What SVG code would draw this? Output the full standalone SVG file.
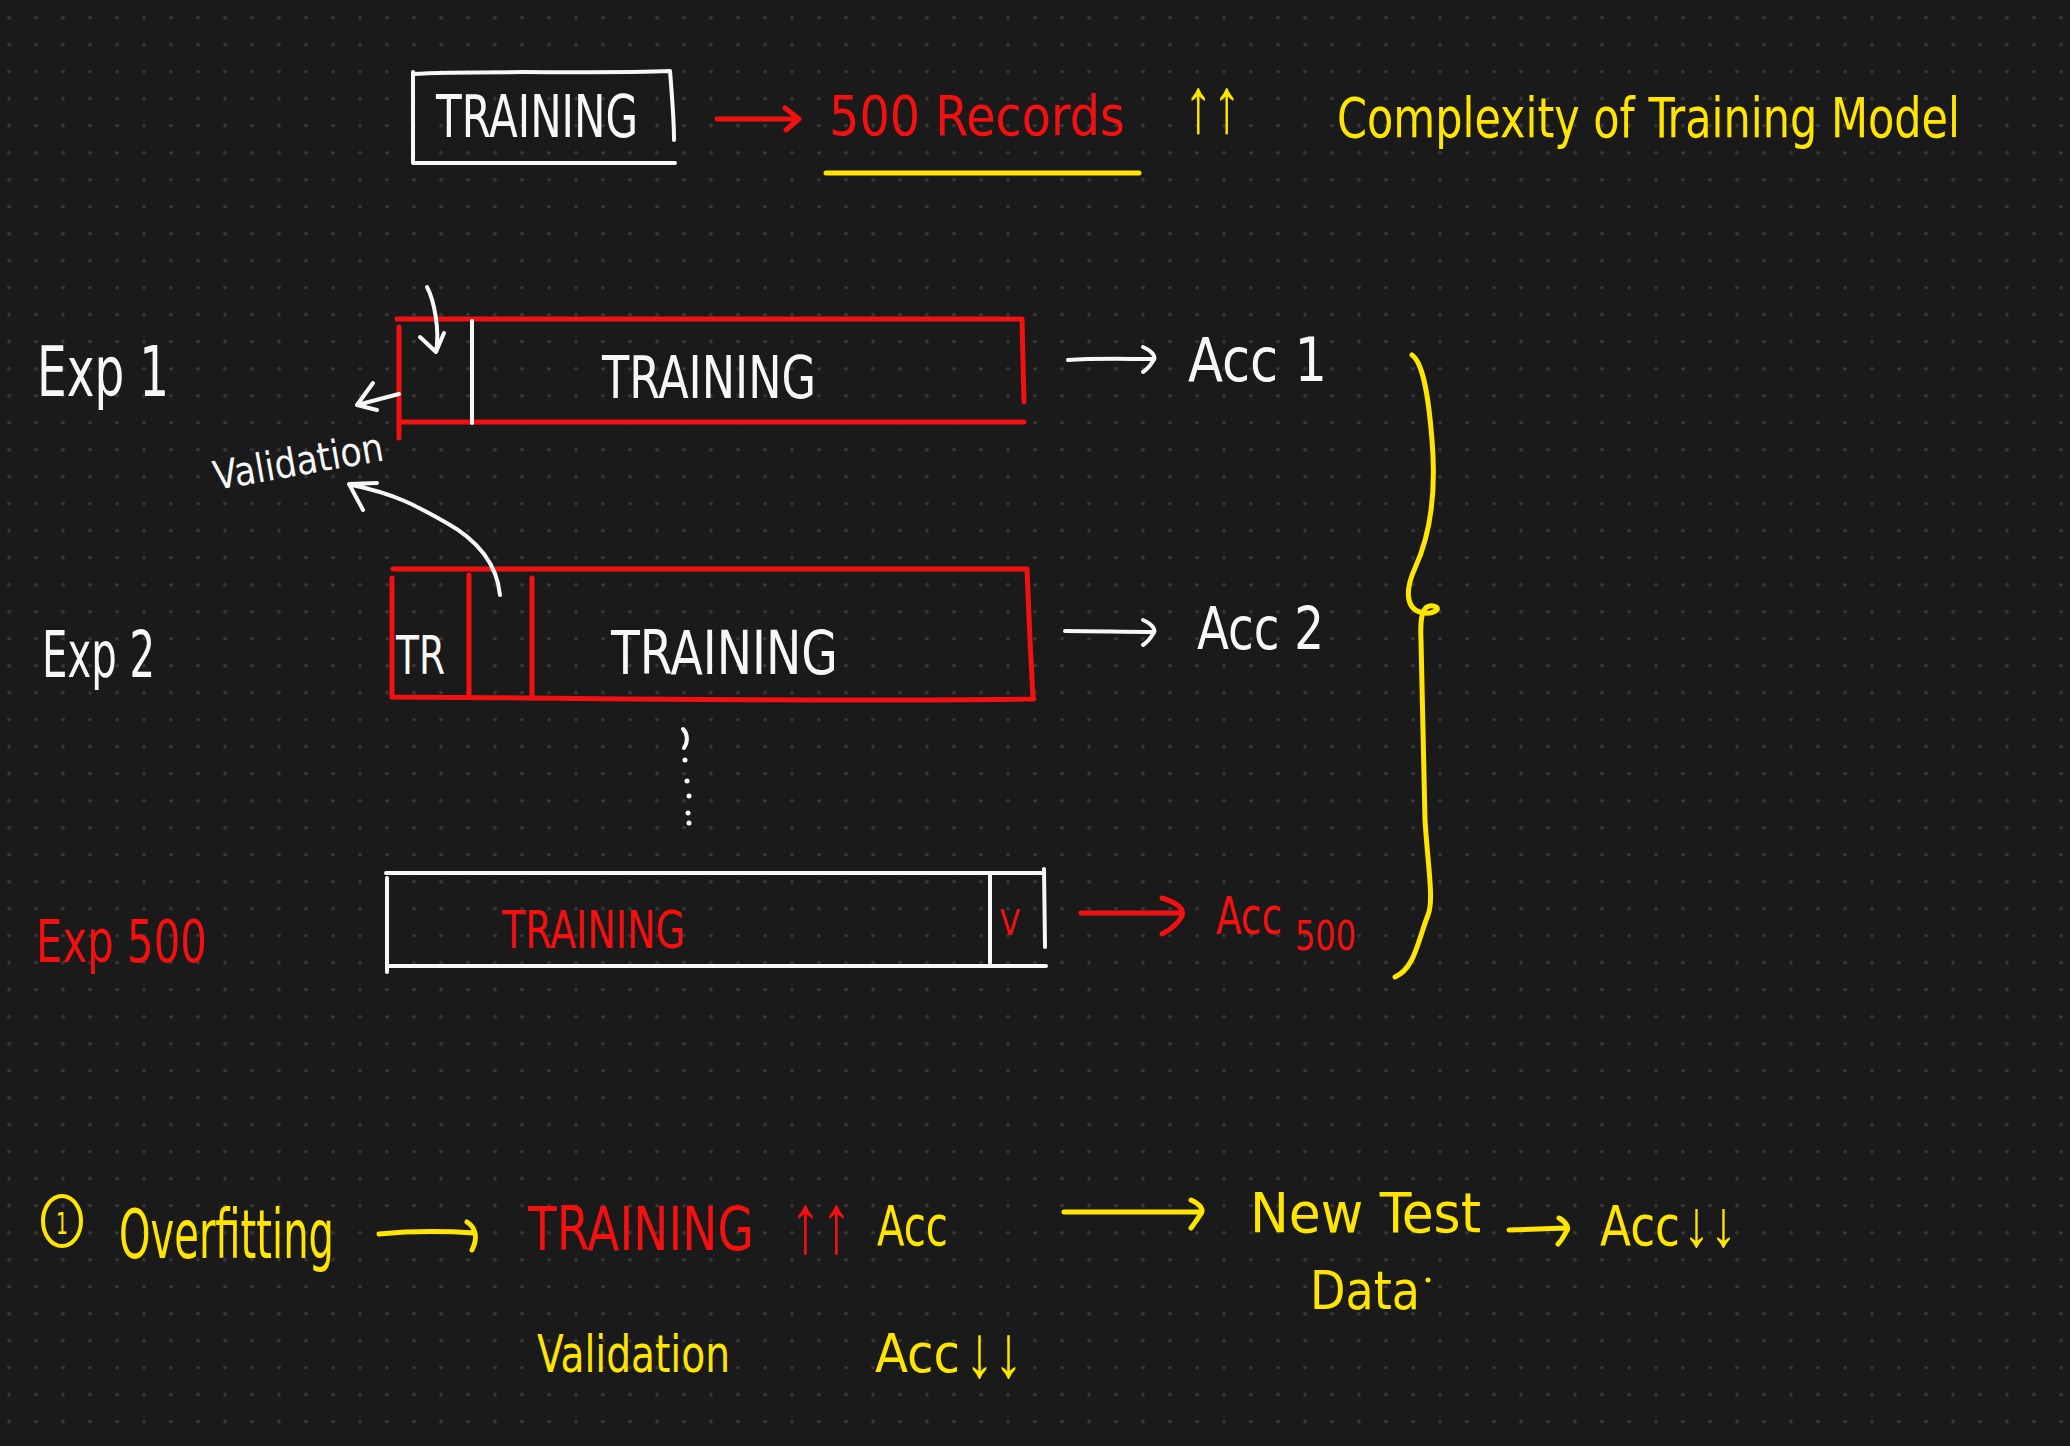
<svg xmlns="http://www.w3.org/2000/svg" width="2070" height="1446" viewBox="0 0 2070 1446">
<defs>
<pattern id="dots" patternUnits="userSpaceOnUse" x="-4.5" y="4.2" width="27" height="27">
<circle cx="13.5" cy="13.5" r="1.8" fill="#3a3a3a"/>
</pattern>
<style>
text{font-family:"Liberation Sans Narrow","DejaVu Sans Condensed","Liberation Sans",sans-serif;font-stretch:condensed;}
.sym{font-family:"Liberation Sans","DejaVu Sans",sans-serif;font-stretch:normal;}
.w{fill:#f7f7f7;}
.r{fill:#f21010;}
.y{fill:#ffe500;}
.sw{fill:none;stroke:#f7f7f7;stroke-width:4;stroke-linecap:round;stroke-linejoin:round;}
.sr{fill:none;stroke:#f21010;stroke-width:5;stroke-linecap:round;stroke-linejoin:round;}
.sy{fill:none;stroke:#ffe500;stroke-width:5;stroke-linecap:round;stroke-linejoin:round;}
</style>
</defs>
<rect width="2070" height="1446" fill="#1a1a1a"/>
<rect width="2070" height="1446" fill="url(#dots)"/>

<!-- Top row -->
<g id="top-training">
<path class="sw" d="M413,72 L413,163 M413,74 C470,70 600,74 670,71 C672,95 674,130 674,140 M413,163 L675,163"/>
<text class="w" x="436" y="137" font-size="58" textLength="202" lengthAdjust="spacingAndGlyphs">TRAINING</text>
</g>
<g id="records">
<text class="r" x="829" y="135" font-size="56" textLength="296" lengthAdjust="spacingAndGlyphs">500 Records</text>
<path class="sy" d="M826,173 L1139,173"/>
</g>
<g id="complexity">
<text class="y sym" x="1184" y="132" font-size="78" textLength="57" lengthAdjust="spacingAndGlyphs">↑↑</text>
<text class="y" x="1337" y="137" font-size="56" textLength="623" lengthAdjust="spacingAndGlyphs">Complexity of Training Model</text>
</g>

<!-- Exp 1 -->
<g id="exp1">
<text class="w" x="37" y="396" font-size="70" textLength="132" lengthAdjust="spacingAndGlyphs">Exp 1</text>
<path class="sr" d="M397,319 L1022,319 L1024,402 M400,422 L1024,422 M399,327 L399,438"/>
<path class="sw" d="M472,321 L472,423"/>
<text class="w" x="602" y="398" font-size="58" textLength="214" lengthAdjust="spacingAndGlyphs">TRAINING</text>
</g>
<g id="acc1">
<text class="w" x="1188" y="381" font-size="60" textLength="139" lengthAdjust="spacingAndGlyphs">Acc 1</text>
</g>
<g id="validation-label">
<text class="w" x="216" y="490" font-size="40" textLength="172" lengthAdjust="spacingAndGlyphs" transform="rotate(-10 216 490)">Validation</text>
</g>

<!-- Exp 2 -->
<g id="exp2">
<text class="w" x="42" y="677" font-size="64" textLength="113" lengthAdjust="spacingAndGlyphs">Exp 2</text>
<path class="sr" d="M393,569 L1027,569 L1030,640 L1033,698 M393,697 C600,698 800,702 1034,699 M392,578 L392,697 M469,575 L469,697 M532,578 L532,697"/>
<text class="w" x="396" y="674" font-size="54" textLength="49" lengthAdjust="spacingAndGlyphs">TR</text>
<text class="w" x="611" y="674" font-size="60" textLength="227" lengthAdjust="spacingAndGlyphs">TRAINING</text>
</g>
<g id="acc2">
<text class="w" x="1197" y="649" font-size="58" textLength="127" lengthAdjust="spacingAndGlyphs">Acc 2</text>
</g>

<!-- ellipsis dots -->
<g id="ellipsis" fill="#f7f7f7">
<path class="sw" d="M683,729 C688,734 688,742 684,748"/>
<circle cx="685" cy="760" r="2.5"/>
<circle cx="687" cy="781" r="2.5"/>
<circle cx="689" cy="796" r="2.5"/>
<circle cx="688" cy="813" r="2.5"/>
<circle cx="689" cy="823" r="2.5"/>
</g>

<!-- Exp 500 -->
<g id="exp500">
<text class="r" x="36" y="962" font-size="58" textLength="171" lengthAdjust="spacingAndGlyphs">Exp 500</text>
<path class="sw" d="M386,873 L1044,873 M387,966 L1046,966 M387,878 L387,972 M1044,869 L1045,947 M990,875 L990,963"/>
<text class="r" x="502" y="948" font-size="52" textLength="183" lengthAdjust="spacingAndGlyphs">TRAINING</text>
<text class="r" x="1000" y="935" font-size="36" textLength="20" lengthAdjust="spacingAndGlyphs">V</text>
</g>
<g id="acc500">
<text class="r" x="1216" y="934" font-size="52"><tspan x="1216" y="934" textLength="66" lengthAdjust="spacingAndGlyphs">Acc</tspan><tspan x="1295" y="950" font-size="40" textLength="61" lengthAdjust="spacingAndGlyphs">500</tspan></text>
</g>

<!-- brace -->
<g id="brace">
<path class="sy" d="M1412,355 C1422,362 1428,390 1432,440 C1437,500 1428,540 1415,568 C1405,590 1406,608 1420,612 C1432,616 1444,608 1433,606 C1422,604 1420,618 1421,640 L1425,820 C1428,868 1434,900 1428,915 C1418,940 1415,968 1395,977"/>
</g>

<!-- Bottom section -->
<g id="overfitting">
<ellipse cx="62" cy="1221" rx="19" ry="25" fill="none" stroke="#ffe500" stroke-width="4"/>
<text class="y" x="56" y="1234" font-size="30" textLength="12" lengthAdjust="spacingAndGlyphs">1</text>
<text class="y" x="119" y="1258" font-size="68" textLength="215" lengthAdjust="spacingAndGlyphs">Overfitting</text>
</g>
<g id="training-acc">
<text x="528" y="1250" font-size="60"><tspan class="r" x="528" y="1250" textLength="226" lengthAdjust="spacingAndGlyphs">TRAINING</tspan><tspan class="r sym" x="790" y="1252" font-size="84" textLength="62" lengthAdjust="spacingAndGlyphs">↑↑</tspan><tspan class="y" x="877" y="1245" font-size="56" textLength="71" lengthAdjust="spacingAndGlyphs">Acc</tspan></text>
</g>
<g id="new-test-data">
<text class="y" x="1250" y="1232" font-size="56" textLength="231" lengthAdjust="spacingAndGlyphs">New Test</text>
<text class="y" x="1310" y="1309" font-size="54" textLength="110" lengthAdjust="spacingAndGlyphs">Data</text>
<circle cx="1428" cy="1280" r="2.5" fill="#ffe500"/>
</g>
<g id="acc-down-1">
<text class="y" x="1600" y="1245" font-size="56"><tspan x="1600" y="1245" textLength="80" lengthAdjust="spacingAndGlyphs">Acc</tspan><tspan class="sym" x="1683" y="1246" font-size="66" textLength="54" lengthAdjust="spacingAndGlyphs">↓↓</tspan></text>
</g>
<g id="validation-acc">
<text class="y" x="537" y="1372" font-size="52" textLength="193" lengthAdjust="spacingAndGlyphs">Validation</text>
<text class="y" x="875" y="1372" font-size="54"><tspan x="875" y="1372" textLength="85" lengthAdjust="spacingAndGlyphs">Acc</tspan><tspan class="sym" x="965" y="1377" font-size="74" textLength="58" lengthAdjust="spacingAndGlyphs">↓↓</tspan></text>
</g>

<!-- connectors -->
<g id="connectors">
<path class="sr" d="M717,119 L797,119 M785,108 L799,119 L786,130"/>
<path class="sw" d="M427,287 C434,300 440,330 436,352 M420,337 L436,352 L444,333"/>
<path class="sw" d="M399,394 L357,405 M373,383 L357,405 L377,410"/>
<path class="sw" d="M500,595 C497,565 478,540 445,522 C415,505 395,494 352,485 M377,483 L349,484 L363,510"/>
<path class="sw" d="M1068,360 C1095,358 1125,359 1153,359 M1143,347 C1152,351 1157,357 1153,361 C1150,366 1146,370 1143,372"/>
<path class="sw" d="M1065,631 C1095,631 1125,632 1153,632 M1143,620 C1152,624 1157,630 1153,634 C1150,639 1146,643 1143,645"/>
<path class="sr" d="M1081,913 L1182,913 M1162,898 C1175,902 1185,908 1182,916 C1178,923 1170,930 1162,934"/>
<path class="sy" d="M379,1234 C410,1231 445,1231 474,1233 M467,1222 C476,1228 478,1238 472,1250"/>
<path class="sy" d="M1064,1212 L1200,1212 M1191,1200 C1200,1204 1205,1210 1200,1215 C1197,1220 1194,1224 1191,1228"/>
<path class="sy" d="M1509,1230 L1566,1228 M1559,1218 C1566,1222 1570,1228 1566,1232 C1563,1238 1560,1242 1558,1244"/>
</g>
</svg>
